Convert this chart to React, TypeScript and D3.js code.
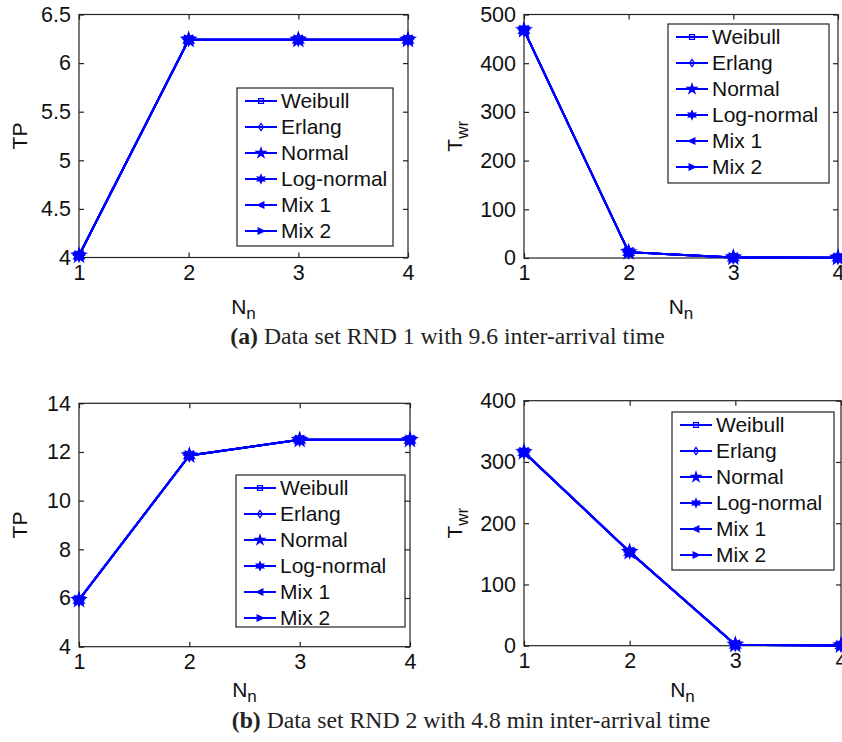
import React, { useEffect, useRef } from 'react';
import * as d3 from 'd3';

// number of nodes on the x axis
const nodes = [1, 2, 3, 4];
const seriesNames = ['Weibull', 'Erlang', 'Normal', 'Log-normal', 'Mix 1', 'Mix 2'];

// (a) RND 1 - one row per distribution (they coincide)
const tpRnd1 = [
  [4.02, 6.24, 6.24, 6.24],
  [4.02, 6.24, 6.24, 6.24],
  [4.02, 6.24, 6.24, 6.24],
  [4.02, 6.24, 6.24, 6.24],
  [4.02, 6.24, 6.24, 6.24],
  [4.02, 6.24, 6.24, 6.24],
];
const twrRnd1 = [
  [468, 12, 1, 0.5],
  [468, 12, 1, 0.5],
  [468, 12, 1, 0.5],
  [468, 12, 1, 0.5],
  [468, 12, 1, 0.5],
  [468, 12, 1, 0.5],
];

// (b) RND 2
const tpRnd2 = [
  [5.92, 11.86, 12.5, 12.5],
  [5.92, 11.86, 12.5, 12.5],
  [5.92, 11.86, 12.5, 12.5],
  [5.92, 11.86, 12.5, 12.5],
  [5.92, 11.86, 12.5, 12.5],
  [5.92, 11.86, 12.5, 12.5],
];
const twrRnd2 = [
  [316, 153, 1.5, 0.5],
  [316, 153, 1.5, 0.5],
  [316, 153, 1.5, 0.5],
  [316, 153, 1.5, 0.5],
  [316, 153, 1.5, 0.5],
  [316, 153, 1.5, 0.5],
];

const tpTicks1 = [4, 4.5, 5, 5.5, 6, 6.5];
const twrTicks1 = [0, 100, 200, 300, 400, 500];
const tpTicks2 = [4, 6, 8, 10, 12, 14];
const twrTicks2 = [0, 100, 200, 300, 400];

const captionA = ['(a)', ' Data set RND 1 with 9.6 inter-arrival time'];
const captionB = ['(b)', ' Data set RND 2 with 4.8 min inter-arrival time'];

const BLUE = '#0000ff';
const SANS = '"Liberation Sans", Arial, sans-serif';
const SERIF = '"Liberation Serif", "Times New Roman", serif';

// MATLAB-ish marker shapes: s, d, p, h, <, >
const markerPath = (i: number, r: number) => {
  const p = d3.path();
  if (i === 0) {
    return d3.symbol(d3.symbolSquare, (r * 1.4) ** 2)() as string;
  }
  if (i === 1) {
    p.moveTo(0, -r); p.lineTo(r * 0.7, 0); p.lineTo(0, r); p.lineTo(-r * 0.7, 0); p.closePath();
    return p.toString();
  }
  if (i === 2) {
    return d3.symbol(d3.symbolStar, r * r * 2.2)() as string;
  }
  if (i === 3) {
    const pts = d3.range(12).map(k => {
      const a = (k * Math.PI) / 6 - Math.PI / 2;
      const rr = k % 2 === 0 ? r * 1.15 : r * 0.55;
      return [Math.cos(a) * rr, Math.sin(a) * rr];
    });
    pts.forEach((pt, k) => (k === 0 ? p.moveTo(pt[0], pt[1]) : p.lineTo(pt[0], pt[1])));
    p.closePath();
    return p.toString();
  }
  if (i === 4) {
    p.moveTo(-r, 0); p.lineTo(r * 0.8, -r * 0.85); p.lineTo(r * 0.8, r * 0.85); p.closePath();
    return p.toString();
  }
  p.moveTo(r, 0); p.lineTo(-r * 0.8, -r * 0.85); p.lineTo(-r * 0.8, r * 0.85); p.closePath();
  return p.toString();
};

const panels = [
  { data: tpRnd1, yDomain: [4, 6.5], yTicks: tpTicks1, yLabel: 'TP', sub: '', xLabY: 314,
    box: { l: 79, r: 408, t: 14.5, b: 257.5 }, leg: { x: 237, y: 88, w: 156, h: 158 } },
  { data: twrRnd1, yDomain: [0, 500], yTicks: twrTicks1, yLabel: 'T', sub: 'wr', xLabY: 314,
    box: { l: 524, r: 838, t: 14.5, b: 258 }, leg: { x: 668, y: 24, w: 161, h: 159 } },
  { data: tpRnd2, yDomain: [4, 14], yTicks: tpTicks2, yLabel: 'TP', sub: '', xLabY: 697,
    box: { l: 79, r: 410, t: 403.3, b: 646.7 }, leg: { x: 236, y: 475, w: 169, h: 152 } },
  { data: twrRnd2, yDomain: [0, 400], yTicks: twrTicks2, yLabel: 'T', sub: 'wr', xLabY: 697,
    box: { l: 524, r: 841, t: 400.7, b: 645.7 }, leg: { x: 672, y: 412, w: 162, h: 158 } },
];

const App = () => {
  const ref = useRef<SVGSVGElement | null>(null);

  useEffect(() => {
    if (!ref.current) return;
    const svg = d3.select(ref.current);
    svg.selectAll('*').remove();

    panels.forEach(panel => {
      const { box, leg } = panel;
      const x = d3.scaleLinear().domain([1, 4]).range([box.l, box.r]);
      const y = d3.scaleLinear().domain(panel.yDomain).range([box.b, box.t]);
      const g = svg.append('g');

      g.append('rect')
        .attr('x', box.l).attr('y', box.t)
        .attr('width', box.r - box.l).attr('height', box.b - box.t)
        .attr('fill', 'white').attr('stroke', '#222').attr('stroke-width', 1.2);

      // bottom axis with labels, inward ticks
      const bottom = g.append('g')
        .attr('transform', `translate(0,${box.b})`)
        .call(d3.axisBottom(x).tickValues(nodes).tickSizeInner(-5).tickSizeOuter(0).tickPadding(7).tickFormat(d3.format('d')));
      const left = g.append('g')
        .attr('transform', `translate(${box.l},0)`)
        .call(d3.axisLeft(y).tickValues(panel.yTicks).tickSizeInner(-5).tickSizeOuter(0).tickPadding(8).tickFormat(d => String(d)));
      const top = g.append('g')
        .attr('transform', `translate(0,${box.t})`)
        .call(d3.axisTop(x).tickValues(nodes).tickSizeInner(-5).tickSizeOuter(0).tickFormat(() => ''));
      const right = g.append('g')
        .attr('transform', `translate(${box.r},0)`)
        .call(d3.axisRight(y).tickValues(panel.yTicks).tickSizeInner(-5).tickSizeOuter(0).tickFormat(() => ''));

      [bottom, left, top, right].forEach(a => {
        a.select('.domain').remove();
        a.selectAll('line').attr('stroke', '#222').attr('stroke-width', 1.2);
        a.selectAll('text').attr('font-family', SANS).attr('font-size', 21.5).attr('fill', '#111');
      });

      // x label N_n
      const xl = g.append('text')
        .attr('x', (box.l + box.r) / 2).attr('y', panel.xLabY)
        .attr('text-anchor', 'middle')
        .attr('font-family', SANS).attr('font-size', 21).attr('fill', '#111');
      xl.append('tspan').text('N');
      xl.append('tspan').attr('dy', 5).attr('font-size', 17).text('n');

      // y label
      const cy = (box.t + box.b) / 2;
      const yx = panel.sub ? box.l - 62 : box.l - 52;
      const yl = g.append('text')
        .attr('transform', `translate(${yx},${cy}) rotate(-90)`)
        .attr('text-anchor', 'middle')
        .attr('font-family', SANS).attr('font-size', 21).attr('fill', '#111');
      yl.append('tspan').text(panel.yLabel);
      if (panel.sub) yl.append('tspan').attr('dy', 6).attr('font-size', 17).text(panel.sub);

      // lines + markers
      const line = d3.line<number>()
        .x((d, i) => x(nodes[i]))
        .y(d => y(d));
      panel.data.forEach((row, si) => {
        g.append('path')
          .attr('d', line(row) as string)
          .attr('fill', 'none').attr('stroke', BLUE).attr('stroke-width', 2);
        g.selectAll(null)
          .data(row)
          .join('path')
          .attr('transform', (d, i) => `translate(${x(nodes[i])},${y(d)})`)
          .attr('d', markerPath(si, 5))
          .attr('fill', si >= 2 ? BLUE : 'none')
          .attr('stroke', BLUE).attr('stroke-width', 1.5);
      });

      // legend
      const lg = g.append('g').attr('transform', `translate(${leg.x},${leg.y})`);
      lg.append('rect').attr('width', leg.w).attr('height', leg.h)
        .attr('fill', 'white').attr('stroke', '#222').attr('stroke-width', 1.2);
      seriesNames.forEach((name, i) => {
        const ry = 13 + i * 26;
        lg.append('line').attr('x1', 8).attr('x2', 40).attr('y1', ry).attr('y2', ry)
          .attr('stroke', BLUE).attr('stroke-width', 2);
        lg.append('path').attr('transform', `translate(24,${ry})`)
          .attr('d', markerPath(i, 3.5))
          .attr('fill', i >= 2 ? BLUE : 'none')
          .attr('stroke', BLUE).attr('stroke-width', 1.3);
        lg.append('text').attr('x', 44).attr('y', ry).attr('dy', '0.35em')
          .attr('font-family', SANS).attr('font-size', 21).attr('fill', '#111')
          .text(name);
      });
    });

    // captions
    const caps: [string[], number, number][] = [[captionA, 447.5, 344], [captionB, 471, 728]];
    caps.forEach(([parts, xx, yy]) => {
      const t = svg.append('text')
        .attr('x', xx).attr('y', yy)
        .attr('text-anchor', 'middle')
        .attr('font-family', SERIF).attr('font-size', 23.7).attr('fill', '#222');
      t.append('tspan').attr('font-weight', 'bold').text(parts[0]);
      t.append('tspan').text(parts[1]);
    });
  }, []);

  return (
    <svg ref={ref} width={842} height={742}
      style={{ position: 'absolute', left: 0, top: 0, background: 'white' }} />
  );
};

export default App;
